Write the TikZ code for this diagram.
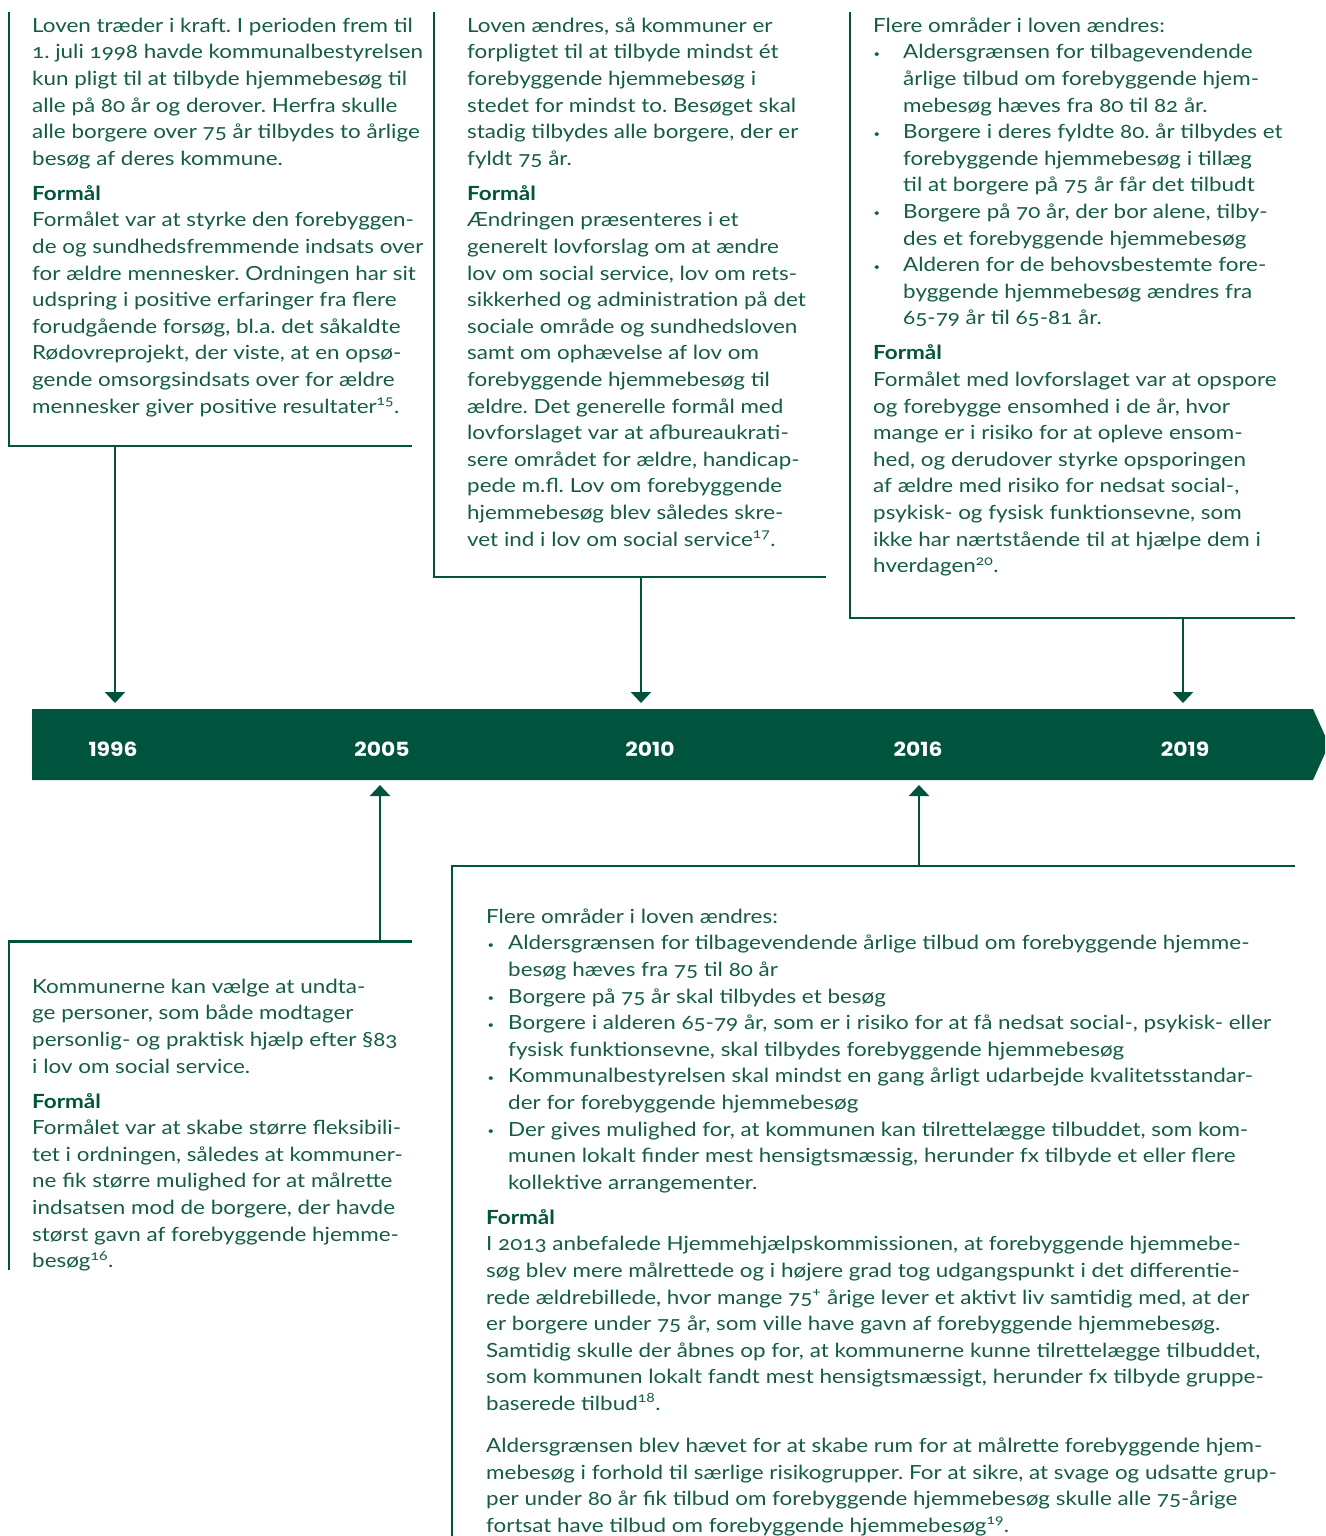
\documentclass[tikz,border=0pt]{standalone}
\usepackage{fontspec}
\setmainfont{Lato}[Numbers=OldStyle,FakeStretch=1.15]
\newfontfamily\yearfont{Poppins}[FakeStretch=1.12]
\usetikzlibrary{arrows.meta}
\definecolor{dg}{RGB}{0,83,61}
\definecolor{tg}{RGB}{20,92,70}
\newcommand\bulA{\makebox[30pt][l]{\hspace{0.5pt}\raisebox{1.5pt}{\scalebox{0.5}{•}}}}
\newcommand\indA{\hspace*{30pt}}
\newcommand\bulB{\makebox[22pt][l]{\hspace{1.5pt}\raisebox{1.5pt}{\scalebox{0.5}{•}}}}
\newcommand\indB{\hspace*{22pt}}
\newcommand\hd{\textbf{\color{dg}Formål}}
\tikzset{
  frame/.style={draw=dg, line width=2.6pt},
  conn/.style={draw=dg, line width=2.6pt, -{Triangle[width=20pt,length=11pt]}},
  txt/.style={anchor=north west, inner sep=0pt, text=tg, align=left,
    font=\frenchspacing\fontsize{19.5}{26.6}\selectfont},
  year/.style={text=white, inner sep=0pt, font=\yearfont\bfseries\fontsize{19.5}{22}\selectfont},
  bar/.style={fill=dg, draw=none}
}
\begin{document}
\begin{tikzpicture}[x=1pt,y=-1pt]
\path[use as bounding box] (0,0) rectangle (1325,1536);
\clip (0,0) rectangle (1325,1536);

% timeline bar
\fill[bar] (32,709) -- (1313,709) -- (1329,744.5) -- (1313,780) -- (32,780) -- cycle;
\node[year] (y1996) at (113,749.4) {1996};
\node[year] (y2005) at (382,749.4) {2005};
\node[year] (y2010) at (650,749.4) {2010};
\node[year] (y2016) at (918,749.4) {2016};
\node[year] (y2019) at (1185,749.4) {2019};

% frames
\draw[frame] (9,12) -- (9,446) -- (412,446);
\draw[frame] (434,12) -- (434,577) -- (826,577);
\draw[frame] (850,12) -- (850,618) -- (1295,618);
\draw[frame] (9,1270) -- (9,941.5) -- (412,941.5);
\draw[frame] (452,1536) -- (452,866) -- (1295,866);

% connector anchors
\coordinate (sA) at (115,446);   \coordinate (tA) at (115,703);
\coordinate (sB) at (641,577);   \coordinate (tB) at (641,703);
\coordinate (sC) at (1183,618);  \coordinate (tC) at (1183,703);
\coordinate (sD) at (380,941.5); \coordinate (tD) at (380,785);
\coordinate (sE) at (919,866);   \coordinate (tE) at (919,785);
\draw[conn] (sA) -- (tA);
\draw[conn] (sB) -- (tB);
\draw[conn] (sC) -- (tC);
\draw[conn] (sD) -- (tD);
\draw[conn] (sE) -- (tE);

% texts
\node[txt] (boxA) at (32,13.4) {\strut Loven træder i kraft. I perioden frem til\\
1. juli 1998 havde kommunalbestyrelsen\\
kun pligt til at tilbyde hjemmebesøg til\\
alle på 80 år og derover. Herfra skulle\\
alle borgere over 75 år tilbydes to årlige\\
besøg af deres kommune.\\[8.4pt]
\hd\\
Formålet var at styrke den forebyggen-\\
de og sundhedsfremmende indsats over\\
for ældre mennesker. Ordningen har sit\\
udspring i positive erfaringer fra flere\\
forudgående forsøg, bl.a. det såkaldte\\
Rødovreprojekt, der viste, at en opsø-\\
gende omsorgsindsats over for ældre\\
mennesker giver positive resultater\textsuperscript{15}.};

\node[txt] (boxB) at (467,13.4) {\strut Loven ændres, så kommuner er\\
forpligtet til at tilbyde mindst ét\\
forebyggende hjemmebesøg i\\
stedet for mindst to. Besøget skal\\
stadig tilbydes alle borgere, der er\\
fyldt 75 år.\\[8.4pt]
\hd\\
Ændringen præsenteres i et\\
generelt lovforslag om at ændre\\
lov om social service, lov om rets-\\
sikkerhed og administration på det\\
sociale område og sundhedsloven\\
samt om ophævelse af lov om\\
forebyggende hjemmebesøg til\\
ældre. Det generelle formål med\\
lovforslaget var at afbureaukrati-\\
sere området for ældre, handicap-\\
pede m.fl. Lov om forebyggende\\
hjemmebesøg blev således skre-\\
vet ind i lov om social service\textsuperscript{17}.};

\node[txt] (boxC) at (873,13.4) {\strut Flere områder i loven ændres:\\
\bulA Aldersgrænsen for tilbagevendende\\
\indA årlige tilbud om forebyggende hjem-\\
\indA mebesøg hæves fra 80 til 82 år.\\
\bulA Borgere i deres fyldte 80. år tilbydes et\\
\indA forebyggende hjemmebesøg i tillæg\\
\indA til at borgere på 75 år får det tilbudt\\
\bulA Borgere på 70 år, der bor alene, tilby-\\
\indA des et forebyggende hjemmebesøg\\
\bulA Alderen for de behovsbestemte fore-\\
\indA byggende hjemmebesøg ændres fra\\
\indA 65-79 år til 65-81 år.\\[8.4pt]
\hd\\
Formålet med lovforslaget var at opspore\\
og forebygge ensomhed i de år, hvor\\
mange er i risiko for at opleve ensom-\\
hed, og derudover styrke opsporingen\\
af ældre med risiko for nedsat social-,\\
psykisk- og fysisk funktionsevne, som\\
ikke har nærtstående til at hjælpe dem i\\
hverdagen\textsuperscript{20}.};

\node[txt] (boxD) at (32,974.4) {\strut Kommunerne kan vælge at undta-\\
ge personer, som både modtager\\
personlig- og praktisk hjælp efter §83\\
i lov om social service.\\[8.4pt]
\hd\\
Formålet var at skabe større fleksibili-\\
tet i ordningen, således at kommuner-\\
ne fik større mulighed for at målrette\\
indsatsen mod de borgere, der havde\\
størst gavn af forebyggende hjemme-\\
besøg\textsuperscript{16}.};

\node[txt] (boxE) at (486,904.4) {\strut Flere områder i loven ændres:\\
\bulB Aldersgrænsen for tilbagevendende årlige tilbud om forebyggende hjemme-\\
\indB besøg hæves fra 75 til 80 år\\
\bulB Borgere på 75 år skal tilbydes et besøg\\
\bulB Borgere i alderen 65-79 år, som er i risiko for at få nedsat social-, psykisk- eller\\
\indB fysisk funktionsevne, skal tilbydes forebyggende hjemmebesøg\\
\bulB Kommunalbestyrelsen skal mindst en gang årligt udarbejde kvalitetsstandar-\\
\indB der for forebyggende hjemmebesøg\\
\bulB Der gives mulighed for, at kommunen kan tilrettelægge tilbuddet, som kom-\\
\indB munen lokalt finder mest hensigtsmæssig, herunder fx tilbyde et eller flere\\
\indB kollektive arrangementer.\\[8.4pt]
\hd\\
I 2013 anbefalede Hjemmehjælpskommissionen, at forebyggende hjemmebe-\\
søg blev mere målrettede og i højere grad tog udgangspunkt i det differentie-\\
rede ældrebillede, hvor mange 75\textsuperscript{+} årige lever et aktivt liv samtidig med, at der\\
er borgere under 75 år, som ville have gavn af forebyggende hjemmebesøg.\\
Samtidig skulle der åbnes op for, at kommunerne kunne tilrettelægge tilbuddet,\\
som kommunen lokalt fandt mest hensigtsmæssigt, herunder fx tilbyde gruppe-\\
baserede tilbud\textsuperscript{18}.\\[15.4pt]
Aldersgrænsen blev hævet for at skabe rum for at målrette forebyggende hjem-\\
mebesøg i forhold til særlige risikogrupper. For at sikre, at svage og udsatte grup-\\
per under 80 år fik tilbud om forebyggende hjemmebesøg skulle alle 75-årige\\
fortsat have tilbud om forebyggende hjemmebesøg\textsuperscript{19}.};
\end{tikzpicture}
\end{document}
